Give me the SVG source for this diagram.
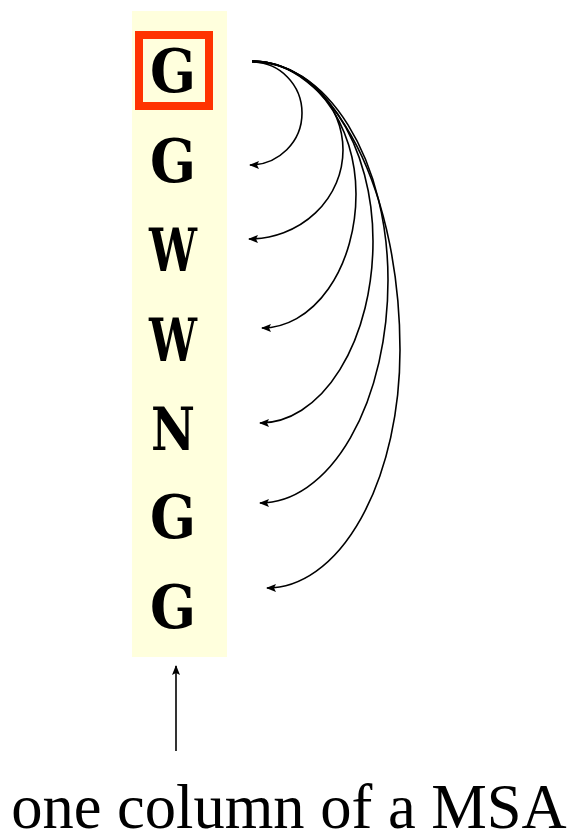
<svg xmlns="http://www.w3.org/2000/svg" width="575" height="833" viewBox="0 0 575 833">
<style>
.res{font-family:"DejaVu Serif","Liberation Serif",serif;font-weight:bold;font-size:60px;fill:#000;text-anchor:middle}
.arc{fill:none;stroke:#000;stroke-width:1.6}
.cap{font-family:"Liberation Serif","Times New Roman",serif;font-size:62.5px;fill:#000;text-anchor:middle}
</style>
<defs>
<marker id="ah" markerWidth="10" markerHeight="8" refX="9" refY="4" orient="auto" markerUnits="userSpaceOnUse">
<path d="M0,0 L10,4 L0,8 L2,4 Z" fill="#000"/>
</marker>
</defs>
<rect id="column" x="132" y="11" width="95" height="646" fill="#FFFFDD"/>
<g id="r1"><rect x="139" y="35" width="70" height="71" fill="none" stroke="#FF3300" stroke-width="8"/><text class="res" x="173" y="92" textLength="46" lengthAdjust="spacingAndGlyphs">G</text></g>
<g id="r2"><text class="res" x="173" y="182" textLength="46" lengthAdjust="spacingAndGlyphs">G</text></g>
<g id="r3"><text class="res" x="173" y="271" textLength="48" lengthAdjust="spacingAndGlyphs">W</text></g>
<g id="r4"><text class="res" x="173" y="361" textLength="48" lengthAdjust="spacingAndGlyphs">W</text></g>
<g id="r5"><text class="res" x="173" y="450" textLength="44" lengthAdjust="spacingAndGlyphs">N</text></g>
<g id="r6"><text class="res" x="173" y="538" textLength="46" lengthAdjust="spacingAndGlyphs">G</text></g>
<g id="r7"><text class="res" x="173" y="628" textLength="46" lengthAdjust="spacingAndGlyphs">G</text></g>
<g id="connectors">
<path class="arc" d="M252,62 A50,51 0 0 1 302,113 A52,52 0 0 1 250,165" marker-end="url(#ah)"/>
<path class="arc" d="M252,62 A91,88 0 0 1 343,150 A94,89 0 0 1 249,239" marker-end="url(#ah)"/>
<path class="arc" d="M252,61 A104,133 0 0 1 356,194 A94,134 0 0 1 262,328" marker-end="url(#ah)"/>
<path class="arc" d="M252,61 A121,180 0 0 1 373,241 A113,182 0 0 1 260,423" marker-end="url(#ah)"/>
<path class="arc" d="M252,61 A136,219 0 0 1 388,280 A128,223 0 0 1 260,503" marker-end="url(#ah)"/>
<path class="arc" d="M252,61 A148,289 0 0 1 400,350 A133,238 0 0 1 267,588" marker-end="url(#ah)"/>
<path class="arc" d="M176,751 L176,666" marker-end="url(#ah)"/>
</g>
<g id="caption"><text class="cap" x="289" y="828">one column of a MSA</text></g>
</svg>
